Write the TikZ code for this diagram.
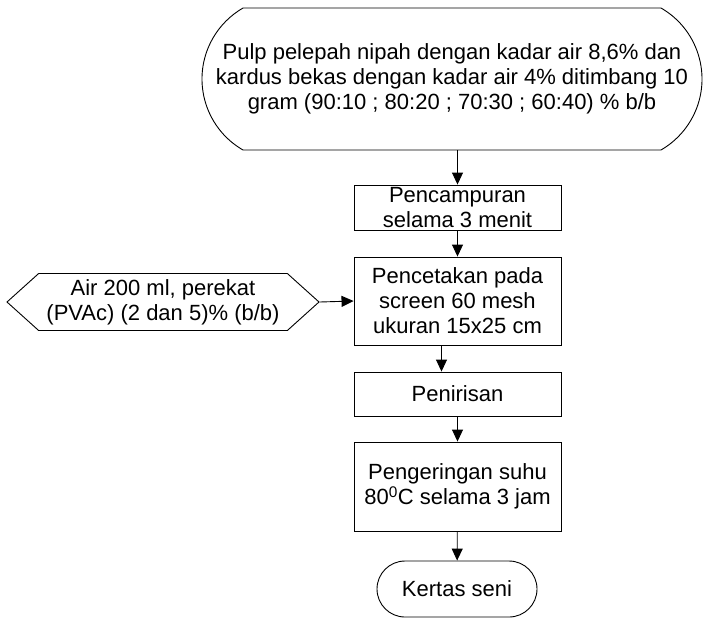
\documentclass[tikz,border=0pt]{standalone}
\usepackage{fontspec}
\setmainfont{Liberation Sans}
\usetikzlibrary{arrows.meta,shapes.misc,shapes.symbols}

\begin{document}
\begin{tikzpicture}[x=1pt,y=-1pt,
  every node/.style={font=\fontsize{22}{25}\selectfont,align=center,inner sep=0pt},
  prosesbox/.style={draw,rectangle,minimum width=207pt,line width=0.9pt},
  terminal/.style={draw,rounded rectangle,line width=0.9pt},
  inputbox/.style={draw,signal,signal to=east and west,signal pointer angle=84,line width=0.9pt},
  panah/.style={line width=0.9pt,-{Triangle[length=12pt,width=11pt]}}]
  \useasboundingbox (0,0) rectangle (703,622);

  % Bahan awal
  \node[terminal,rounded rectangle arc length=120,minimum width=500pt,minimum height=142pt] (bahan) at (452,79)
    {Pulp pelepah nipah dengan kadar air 8,6\% dan\\kardus bekas dengan kadar air 4\% ditimbang 10\\gram (90:10 ; 80:20 ; 70:30 ; 60:40) \% b/b};

  % Proses
  \node[prosesbox,minimum height=45pt] (campur) at (457.5,207.5) {Pencampuran\\selama 3 menit};
  \node[prosesbox,minimum height=88pt] (cetak) at (457.5,301) {Pencetakan pada\\screen 60 mesh\\ukuran 15x25 cm};
  \node[prosesbox,minimum height=44pt] (tiris) at (457.5,394) {Penirisan};
  \node[prosesbox,minimum height=89pt] (kering) at (457.5,486.5) {Pengeringan suhu\\80\textsuperscript{0}C selama 3 jam};

  % Bahan tambahan
  \node[inputbox,minimum width=312pt,minimum height=57pt] (perekat) at (163,302) {Air 200 ml, perekat\\(PVAc) (2 dan 5)\% (b/b)};

  % Produk
  \node[terminal,minimum width=160pt,minimum height=56pt] (kertas) at (457,589) {Kertas seni};

  % Panah
  \draw[panah] (campur.north |- bahan.south) -- (campur.north);
  \draw[panah] (campur) -- (cetak);
  \draw[panah] (perekat.east) -- (cetak.west);
  \draw[panah] ([xshift=-16pt]cetak.south) -- ([xshift=-16pt]tiris.north);
  \draw[panah] (tiris) -- (kering);
  \draw[panah] (kering) -- (kertas);
\end{tikzpicture}
\end{document}
